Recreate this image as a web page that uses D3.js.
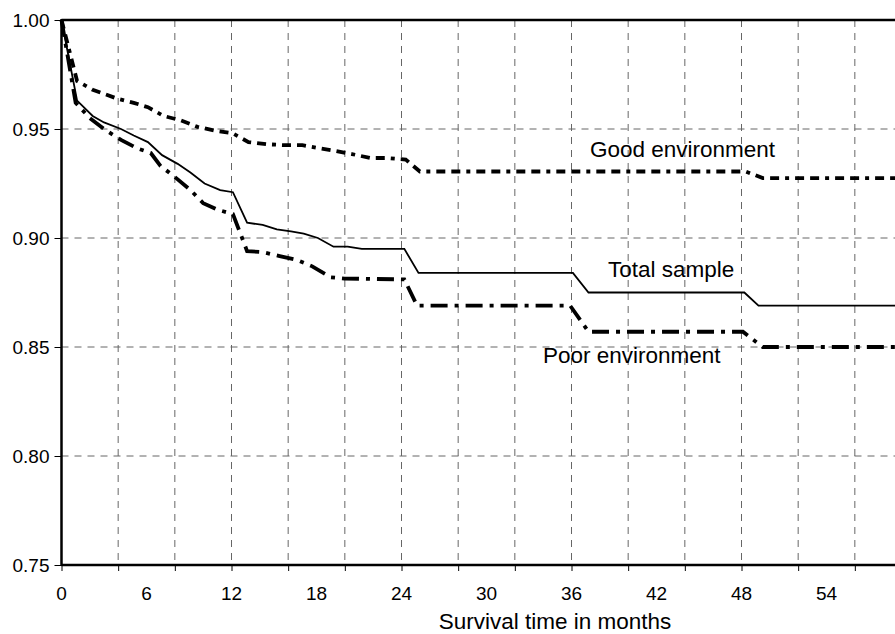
<!DOCTYPE html>
<html>
<head>
<meta charset="utf-8">
<script src="https://cdn.jsdelivr.net/npm/d3@7"></script>
<style>
  body { margin: 0; background: #fff; }
  svg { display: block; font-family: "Liberation Sans", Arial, sans-serif; }
</style>
</head>
<body>
<div id="chart"></div>
<script>
// Survival curves (month, proportion surviving)
var totalMonths = [0, 1.1, 2.2, 3.0, 4.2, 5.1, 6.1, 7.1, 8.2, 9.1, 10.1, 11.2, 12.1, 13.1, 14.2, 15.2, 16.2, 17.1, 18.1, 19.2, 20.2, 21.2, 24.2, 25.2, 36.1, 37.2, 48.2, 49.2, 60];
var totalValues = [1.0, 0.963, 0.956, 0.953, 0.950, 0.947, 0.944, 0.938, 0.934, 0.930, 0.925, 0.922, 0.921, 0.907, 0.906, 0.904, 0.903, 0.902, 0.900, 0.896, 0.896, 0.895, 0.895, 0.884, 0.884, 0.875, 0.875, 0.869, 0.869];

var goodMonths = [0, 1.1, 2.2, 3.9, 5.1, 6.1, 7.2, 8.4, 9.6, 11.0, 12.1, 13.2, 14.5, 15.7, 17.0, 18.1, 19.3, 20.5, 21.8, 23.0, 24.3, 25.3, 48.3, 49.5, 60];
var goodValues = [1.0, 0.972, 0.968, 0.964, 0.962, 0.960, 0.956, 0.954, 0.951, 0.949, 0.948, 0.944, 0.943, 0.9426, 0.9426, 0.9413, 0.940, 0.9385, 0.9367, 0.9367, 0.936, 0.9305, 0.9305, 0.9275, 0.9275];

var poorMonths = [0, 1.0, 2.0, 3.0, 4.2, 5.4, 6.3, 7.0, 8.0, 9.1, 10.0, 11.0, 12.1, 13.1, 14.2, 15.4, 16.6, 17.7, 19.0, 20.0, 24.2, 25.1, 35.9, 37.2, 48.1, 49.5, 60];
var poorValues = [1.0, 0.962, 0.955, 0.950, 0.945, 0.941, 0.939, 0.933, 0.928, 0.922, 0.916, 0.913, 0.911, 0.894, 0.8935, 0.8917, 0.890, 0.887, 0.882, 0.8814, 0.881, 0.869, 0.869, 0.857, 0.857, 0.850, 0.850];

var gridMonths = [0, 4, 8, 12, 16, 20, 24, 28, 32, 36, 40, 44, 48, 52, 56, 60];
var labelMonths = [0, 6, 12, 18, 24, 30, 36, 42, 48, 54];
var yTicks = [0.75, 0.80, 0.85, 0.90, 0.95, 1.00];

var seriesNames = ["Good environment", "Total sample", "Poor environment"];

// set the dimensions
var width = 895
    height = 634

var svg = d3.select("#chart")
  .append("svg")
    .attr("width", width)
    .attr("height", height);

var x = d3.scaleLinear().domain([0, 60]).range([61.5, 911.5]);
var y = d3.scaleLinear().domain([0.75, 1.0]).range([565, 20]);

// dashed grid
svg.selectAll(".vgrid")
  .data(gridMonths.slice(1))
  .enter()
  .append("line")
    .attr("x1", d => x(d)).attr("x2", d => x(d))
    .attr("y1", y(1)).attr("y2", y(0.75))
    .attr("stroke", "#666")
    .attr("stroke-width", 1)
    .attr("stroke-dasharray", "7,6");

svg.selectAll(".hgrid")
  .data(yTicks.slice(1, -1))
  .enter()
  .append("line")
    .attr("x1", x(0)).attr("x2", width)
    .attr("y1", d => y(d)).attr("y2", d => y(d))
    .attr("stroke", "#666")
    .attr("stroke-width", 1)
    .attr("stroke-dasharray", "7,6");

// axes
var xAxis = d3.axisBottom(x).tickValues(gridMonths).tickSize(6).tickFormat("");
svg.append("g")
  .attr("transform", "translate(0," + y(0.75) + ")")
  .call(xAxis)
  .call(g => g.select(".domain").remove())
  .call(g => g.selectAll("line").attr("stroke", "#000").attr("stroke-width", 1));

svg.selectAll(".xlab")
  .data(labelMonths)
  .enter()
  .append("text")
    .attr("x", d => x(d))
    .attr("y", 600)
    .attr("text-anchor", "middle")
    .style("font-size", "19px")
    .text(d => d);

var yAxis = d3.axisLeft(y).tickValues(yTicks).tickSize(7).tickFormat(d3.format(".2f"));
svg.append("g")
  .attr("transform", "translate(" + x(0) + ",0)")
  .call(yAxis)
  .call(g => g.select(".domain").remove())
  .call(g => g.selectAll("line").attr("stroke", "#000").attr("stroke-width", 1))
  .call(g => g.selectAll("text")
    .attr("x", -12)
    .attr("fill", "#000")
    .style("font-size", "19px")
    .style("font-family", "'Liberation Sans', Arial, sans-serif"));

// frame lines
svg.append("line")
  .attr("x1", x(0)).attr("x2", width).attr("y1", y(1)).attr("y2", y(1))
  .attr("stroke", "#000").attr("stroke-width", 2.5);
svg.append("line")
  .attr("x1", x(0)).attr("x2", width).attr("y1", y(0.75)).attr("y2", y(0.75))
  .attr("stroke", "#000").attr("stroke-width", 2.5);
svg.append("line")
  .attr("x1", x(0)).attr("x2", x(0)).attr("y1", y(1) - 1).attr("y2", y(0.75) + 1)
  .attr("stroke", "#000").attr("stroke-width", 2.5);

// curves
var line = d3.line()
  .x(d => x(d[0]))
  .y(d => y(d[1]));

function pairs(months, values) {
  return months.map((m, i) => [m, values[i]]);
}

svg.append("path")
  .datum(pairs(goodMonths, goodValues))
  .attr("d", line)
  .attr("fill", "none")
  .attr("stroke", "#000")
  .attr("stroke-width", 3.8)
  .attr("stroke-dasharray", "9,6,9,6,4,6");

svg.append("path")
  .datum(pairs(poorMonths, poorValues))
  .attr("d", line)
  .attr("fill", "none")
  .attr("stroke", "#000")
  .attr("stroke-width", 3.8)
  .attr("stroke-dasharray", "17,7,4,7");

svg.append("path")
  .datum(pairs(totalMonths, totalValues))
  .attr("d", line)
  .attr("fill", "none")
  .attr("stroke", "#000")
  .attr("stroke-width", 1.8);

// curve labels
var labelPos = [[590, 157], [608, 277], [543, 363]];
svg.selectAll(".clab")
  .data(seriesNames)
  .enter()
  .append("text")
    .attr("x", (d, i) => labelPos[i][0])
    .attr("y", (d, i) => labelPos[i][1])
    .style("font-size", "22.5px")
    .text(d => d);

// axis title
svg.append("text")
  .attr("x", 555)
  .attr("y", 629)
  .attr("text-anchor", "middle")
  .style("font-size", "22.5px")
  .text("Survival time in months");
</script>
</body>
</html>
